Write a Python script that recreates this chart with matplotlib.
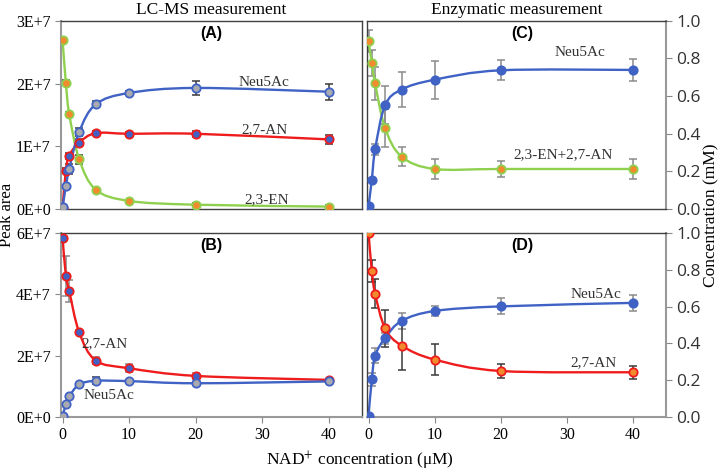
import numpy as np
import matplotlib.pyplot as plt
from matplotlib.path import Path
from matplotlib.patches import PathPatch
from matplotlib.ticker import FuncFormatter, MultipleLocator

plt.rcParams['font.family'] = ['Liberation Serif', 'DejaVu Serif']
plt.rcParams['mathtext.fontset'] = 'stix'

# NAD+ concentration (uM)
nad = [0, 0.5, 1, 2.5, 5, 10, 20, 40]

# (A) LC-MS, peak area
a_neu = [0.3e6, 3.6e6, 6.4e6, 12.3e6, 16.7e6, 18.5e6, 19.3e6, 18.7e6]
a_neu_err = [0.2e6, 0.3e6, 0.8e6, 0.6e6, 0.5e6, 0.3e6, 1.1e6, 1.3e6]
a_an = [0.1e6, 6.1e6, 8.5e6, 10.6e6, 12.1e6, 12.0e6, 12.0e6, 11.1e6]
a_an_err = [0.1e6, 0.4e6, 0.5e6, 0.6e6, 0.3e6, 0.3e6, 0.5e6, 0.7e6]
a_en = [27.0e6, 20.1e6, 15.2e6, 7.95e6, 3.1e6, 1.3e6, 0.7e6, 0.4e6]
a_en_err = [0.3e6, 0.4e6, 0.3e6, 0.7e6, 0.2e6, 0.2e6, 0.2e6, 0.2e6]

# (B) LC-MS, peak area
b_an = [58.5e6, 46.1e6, 41.1e6, 27.6e6, 18.4e6, 15.9e6, 13.4e6, 12.1e6]
b_an_err = [0.5e6, 6.5e6, 3.5e6, 0.6e6, 1.2e6, 1.3e6, 1.0e6, 0.4e6]
b_neu = [0.2e6, 4.1e6, 6.7e6, 10.6e6, 11.8e6, 11.7e6, 11.0e6, 11.6e6]
b_neu_err = [0.2e6, 0.3e6, 0.3e6, 0.4e6, 1.2e6, 0.3e6, 0.3e6, 0.4e6]

# (C) enzymatic, mM
c_neu = [0.014, 0.157, 0.317, 0.551, 0.635, 0.687, 0.737, 0.739]
c_neu_err = [0.0, 0.01, 0.03, 0.1, 0.095, 0.1, 0.054, 0.06]
c_mix = [0.893, 0.776, 0.667, 0.431, 0.279, 0.213, 0.213, 0.213]
c_mix_err = [0.06, 0.07, 0.09, 0.1, 0.05, 0.055, 0.04, 0.055]

# (D) enzymatic, mM
d_neu = [0.007, 0.205, 0.333, 0.429, 0.522, 0.576, 0.601, 0.620]
d_neu_err = [0.0, 0.035, 0.04, 0.03, 0.045, 0.027, 0.043, 0.043]
d_an = [1.0, 0.793, 0.670, 0.482, 0.388, 0.312, 0.250, 0.243]
d_an_err = [0.0, 0.06, 0.08, 0.1, 0.13, 0.085, 0.04, 0.035]

BLUE = '#3f62c4'
RED = '#ee1c1c'
GREEN = '#8fd14f'
ORANGE = '#f28a2e'
GRAY = '#a9a9b0'
EGRAY = '#8a8a8a'
EDARK = '#3a3a3a'


def smooth_line(ax, x, y, color):
    # Excel-style smoothed line through the measured points
    pts = np.column_stack([x, y])
    n = len(pts)
    verts = [pts[0]]
    codes = [Path.MOVETO]
    for i in range(n - 1):
        p0 = pts[max(i - 1, 0)]
        p1 = pts[i]
        p2 = pts[i + 1]
        p3 = pts[min(i + 2, n - 1)]
        verts += [p1 + (p2 - p0) / 6, p2 - (p3 - p1) / 6, p2]
        codes += [Path.CURVE4] * 3
    ax.add_patch(PathPatch(Path(verts, codes), fill=False, ec=color, lw=1.7, zorder=2))


def serie(ax, y, err, line, face, edge, ecol):
    ax.errorbar(nad, y, yerr=err, fmt='none', ecolor=ecol, elinewidth=1.1,
                capsize=3, capthick=1.1, zorder=1)
    smooth_line(ax, nad, y, line)
    ax.plot(nad, y, 'o', ms=6, mfc=face, mec=edge, mew=1.3, zorder=3)


def sci(v, pos):
    if v == 0:
        return '0E+0'
    return '%dE+7' % round(v / 1e7)


fig = plt.figure(figsize=(7.2, 4.72), dpi=100)

L, R = 0.085, 0.51
W = 0.418
TOP_B, TOP_H = 0.557, 0.399
BOT_B, BOT_H = 0.1165, 0.39

axA = fig.add_axes([L, TOP_B, W, TOP_H])
axB = fig.add_axes([L, BOT_B, W, BOT_H])
axC = fig.add_axes([R, TOP_B, 0.415, TOP_H])
axD = fig.add_axes([R, BOT_B, 0.415, BOT_H])

serie(axA, a_en, a_en_err, GREEN, ORANGE, GREEN, EDARK)
serie(axA, a_an, a_an_err, RED, BLUE, RED, EDARK)
serie(axA, a_neu, a_neu_err, BLUE, GRAY, BLUE, EDARK)

serie(axB, b_an, b_an_err, RED, BLUE, RED, EGRAY)
serie(axB, b_neu, b_neu_err, BLUE, GRAY, BLUE, EDARK)

serie(axC, c_mix, c_mix_err, GREEN, ORANGE, GREEN, EGRAY)
serie(axC, c_neu, c_neu_err, BLUE, BLUE, BLUE, EGRAY)

serie(axD, d_neu, d_neu_err, BLUE, BLUE, BLUE, EGRAY)
serie(axD, d_an, d_an_err, RED, ORANGE, RED, EDARK)

axA.set_ylim(0, 3e7)
axA.yaxis.set_major_locator(MultipleLocator(1e7))
axB.set_ylim(0, 6e7)
axB.yaxis.set_major_locator(MultipleLocator(2e7))
for ax in (axA, axB):
    ax.yaxis.set_major_formatter(FuncFormatter(sci))

for ax in (axA, axB, axC, axD):
    ax.set_xlim(-0.2, 45)
    ax.xaxis.set_major_locator(MultipleLocator(10))
    for s in ax.spines.values():
        s.set_color('#404040')
        s.set_linewidth(1.0)
    ax.tick_params(direction='out', length=4, color='#888888', labelsize=11.5)

for ax in (axC, axD):
    ax.set_ylim(0, 1.0)
    ax.yaxis.set_major_locator(MultipleLocator(0.2))
    ax.yaxis.tick_right()
    ax.yaxis.set_major_formatter(FuncFormatter(lambda v, p: '%.1f' % v))
    ax.tick_params(axis='y', labelsize=12.5, labelcolor='#333333')
    for t in ax.get_yticklabels():
        t.set_family('Open Sans')

for ax in (axA, axB):
    ax.spines['left'].set_color('#999999')
    ax.spines['left'].set_linewidth(1.5)
for ax in (axC, axD):
    ax.spines['right'].set_color('#999999')
    ax.spines['right'].set_linewidth(1.5)
for ax in (axB, axD):
    ax.spines['bottom'].set_color('#999999')
    ax.spines['bottom'].set_linewidth(1.5)

for ax in (axA, axC):
    ax.tick_params(axis='x', bottom=False, labelbottom=False)

# panel letters
for ax, lab, xp in ((axA, '(A)', 0.5), (axB, '(B)', 0.5), (axC, '(C)', 0.52), (axD, '(D)', 0.52)):
    ax.text(xp, 0.93, lab, transform=ax.transAxes, ha='center', va='center',
            family='Liberation Sans', fontweight='bold', fontsize=11.5)

# curve labels
tk = dict(ha='center', va='center', fontsize=11, color='#333333')
axA.text(30.3, 20.2e6, 'Neu5Ac', **tk)
axA.text(30.3, 12.6e6, '2,7-AN', **tk)
axA.text(30.7, 1.5e6, '2,3-EN', **tk)
axB.text(6.3, 23.9e6, '2,7-AN', **tk)
axB.text(6.9, 6.9e6, 'Neu5Ac', **tk)
axC.text(32, 0.83, 'Neu5Ac', **tk)
axC.text(29.5, 0.29, '2,3-EN+2,7-AN', **tk)
axD.text(34.4, 0.663, 'Neu5Ac', **tk)
axD.text(34, 0.293, '2,7-AN', **tk)

axA.set_title('LC-MS measurement', fontsize=12.5, pad=5)
axC.set_title('Enzymatic measurement', fontsize=12.5, pad=5)
fig.text(0.0095, 0.545, 'Peak area', rotation=90, ha='center', va='center', fontsize=12)
fig.text(0.988, 0.545, 'Concentration (mM)', rotation=90, ha='center', va='center', fontsize=12.5)
fig.text(0.5, 0.023, r'NAD$^{+}$ concentration (μM)', ha='center', va='center', fontsize=12.5)

plt.savefig('out.png', dpi=100)
